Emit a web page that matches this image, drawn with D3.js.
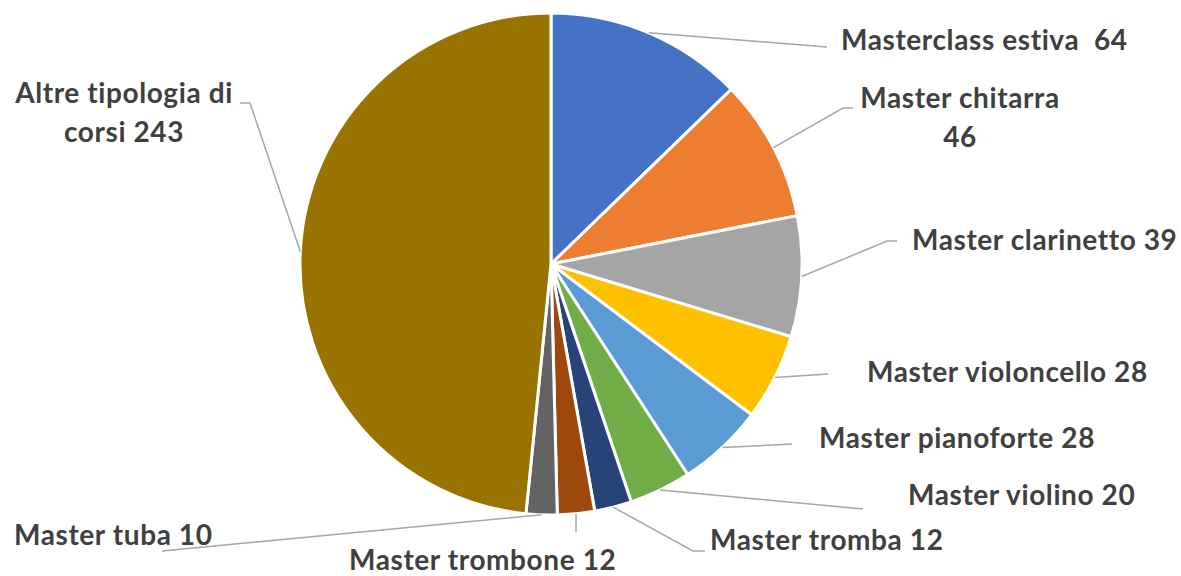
<!DOCTYPE html>
<html><head><meta charset="utf-8">
<script src="https://cdn.jsdelivr.net/npm/d3@7"></script>
<style>
html,body{margin:0;padding:0;background:#fff;}
text{font-family:Lato,"Open Sans",sans-serif;font-weight:700;fill:#404040;}
</style></head>
<body><svg id="c" width="1181" height="576"></svg>
<script>
const categories = ["Masterclass estiva","Master chitarra","Master clarinetto","Master violoncello","Master pianoforte","Master violino","Master tromba","Master trombone","Master tuba","Altre tipologia di corsi"];
const values = [64,46,39,28,28,20,12,12,10,243];
const labelLines = [["Masterclass estiva  64"],["Master chitarra","46"],["Master clarinetto 39"],["Master violoncello 28"],["Master pianoforte 28"],["Master violino 20"],["Master tromba 12"],["Master trombone 12"],["Master tuba 10"],["Altre tipologia di","corsi 243"]];
const colors = ["#4472C4","#ED7D31","#A5A5A5","#FFC000","#5B9BD5","#70AD47","#264478","#9E480E","#636363","#997300"];

// layout: label anchor (x, baseline y, anchor), leader elbow points
const layout = [
  {x:841, y:50, a:"start", pts:[[827,47]]},
  {x:960, y:108, a:"middle", pts:[[843,108],[853,108]]},
  {x:912, y:250, a:"start", pts:[[887,241],[897,241]]},
  {x:867, y:382, a:"start", pts:[[828,374]]},
  {x:819, y:448, a:"start", pts:[[792,444]]},
  {x:908, y:505, a:"start", pts:[[863,509]]},
  {x:710, y:550, a:"start", pts:[[693,551],[705,551]]},
  {x:349, y:570, a:"start", pts:[[576,532]]},
  {x:14, y:545, a:"start", pts:[[162,551]]},
  {x:124, y:103, a:"middle", pts:[[250,103],[240,103]]}
];

const svg = d3.select("#c");
const cx = 551, cy = 264, R = 251;
const g = svg.append("g").attr("transform",`translate(${cx},${cy})`);
const pie = d3.pie().sort(null).value(d=>d)(values);
const arc = d3.arc().innerRadius(0).outerRadius(R);
g.selectAll("path.s").data(pie).enter().append("path")
  .attr("d",arc).attr("fill",(d,i)=>colors[i])
  .attr("stroke","#fff").attr("stroke-width",3).attr("stroke-linejoin","round");

const edge = d3.arc().innerRadius(R).outerRadius(R);
const line = d3.line();
pie.forEach((d,i)=>{
  const c = edge.centroid(d);
  const p0 = [c[0]+cx, c[1]+cy];
  svg.append("path").attr("d", line([p0, ...layout[i].pts]))
    .attr("fill","none").attr("stroke","#A6A6A6").attr("stroke-width",1.5);
});

const fs = 28;
labelLines.forEach((lines,i)=>{
  const L = layout[i];
  const t = svg.append("text").attr("x",L.x).attr("y",L.y).attr("text-anchor",L.a)
    .attr("font-size",fs).attr("letter-spacing","0.6px");
  lines.forEach((s,j)=>{
    t.append("tspan").attr("x",L.x).attr("dy", j===0?0:39).text(s).style("white-space","pre");
  });
});
</script></body></html>
